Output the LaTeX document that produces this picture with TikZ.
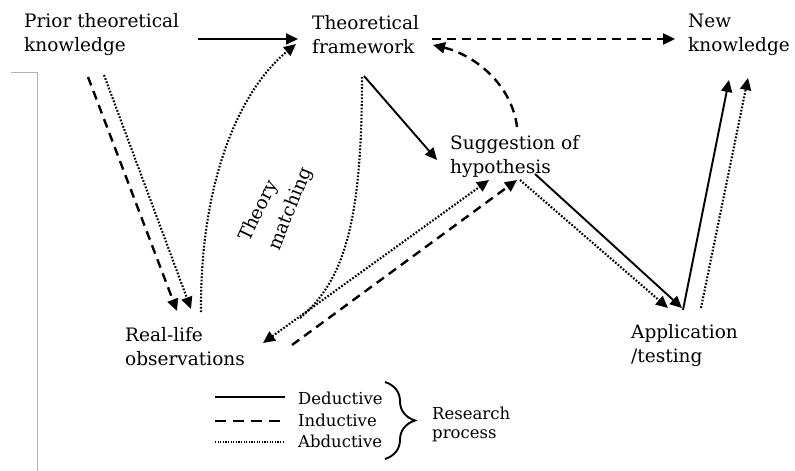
\documentclass[tikz,border=0pt]{standalone}
\usepackage{fontspec}
\setmainfont{DejaVu Serif}
\usetikzlibrary{arrows.meta,decorations.pathreplacing}
\tikzset{
  lbl/.style={inner sep=0pt, align=left, anchor=west, font=\fontsize{18.5}{24}\selectfont},
  leg/.style={inner sep=0pt, align=left, anchor=west, font=\fontsize{16.5}{19}\selectfont},
  tip/.style={-{Triangle[length=12pt,width=11pt]}},
  dedu/.style={line width=1.9pt},
  indu/.style={line width=2.4pt, dash pattern=on 9pt off 6pt},
  abdu/.style={line width=2.1pt, dash pattern=on 1.7pt off 1.7pt},
}
\begin{document}
\begin{tikzpicture}[x=1pt,y=-1pt]
\useasboundingbox (0,0) rectangle (795,471);
\draw[gray!60, line width=1pt] (11,72) -- (37,72) -- (37,471);

\node[lbl] (prior) at (24,35) {Prior theoretical\\knowledge};
\node[lbl] (frame) at (312,35) {Theoretical\\framework};
\node[lbl] (newk) at (688,35) {New\\knowledge};
\node[lbl] (sugg) at (450,157) {Suggestion of\\hypothesis};
\node[lbl] (real) at (125,347) {Real-life\\observations};
\node[lbl] (appl) at (631,346) {Application\\/testing};
\node[lbl, anchor=base west, rotate=64] (tm1) at (249,243) {Theory};
\node[lbl, anchor=base west, rotate=68] (tm2) at (279,252) {matching};

% connector end points
\coordinate (p1) at (198,39);  \coordinate (f1) at (298,39);
\coordinate (p2) at (88,77);   \coordinate (r1) at (177,311);
\coordinate (p3) at (104,75);  \coordinate (r2) at (191,309);
\coordinate (r3) at (201,312); \coordinate (f2) at (296,44);
\coordinate (f3) at (364,76);  \coordinate (s1) at (437,160);
\coordinate (f4) at (362,77);  \coordinate (m1) at (300,318);
\coordinate (r4) at (263,343); \coordinate (s2) at (489,180);
\coordinate (r5) at (292,345); \coordinate (s3) at (517,180);
\coordinate (s4) at (517,127); \coordinate (f5) at (433,45);
\coordinate (f6) at (432,39);  \coordinate (n1) at (675,39);
\coordinate (s5) at (520,180); \coordinate (a1) at (668,308);
\coordinate (s6) at (535,174); \coordinate (a2) at (682,308);
\coordinate (a3) at (683,310); \coordinate (n2) at (729,80);
\coordinate (a4) at (701,308); \coordinate (n3) at (748,78);

\draw[dedu,tip] (p1) -- (f1);
\draw[indu,tip] (p2) -- (r1);
\draw[abdu,tip] (p3) -- (r2);
\draw[abdu,tip] (r3) .. controls (200,180) and (240,90) .. (f2);
\draw[dedu,tip] (f3) -- (s1);
\draw[abdu] (f4) .. controls (362,220) and (345,280) .. (m1);
\draw[abdu,{Triangle[length=12pt,width=11pt]}-{Triangle[length=12pt,width=11pt]}] (r4) -- (s2);
\draw[indu,tip] (r5) -- (s3);
\draw[indu,tip] (s4) .. controls (512,85) and (475,55) .. (f5);
\draw[indu,tip] (f6) -- (n1);
\draw[abdu,tip] (s5) -- (a1);
\draw[dedu,tip] (s6) -- (a2);
\draw[dedu,tip] (a3) -- (n2);
\draw[abdu,tip] (a4) -- (n3);

% legend
\coordinate (l1a) at (215,397); \coordinate (l1b) at (285,397);
\coordinate (l2a) at (215,421); \coordinate (l2b) at (285,421);
\coordinate (l3a) at (215,442); \coordinate (l3b) at (285,442);
\draw[dedu] (l1a) -- (l1b);
\draw[line width=2.4pt, dash pattern=on 11pt off 7pt] (l2a) -- (l2b);
\draw[line width=1.4pt, dash pattern=on 1.2pt off 1.4pt] (l3a) -- (l3b);
\node[leg] (ded) at (298,398) {Deductive};
\node[leg] (ind) at (298,420) {Inductive};
\node[leg] (abd) at (298,441) {Abductive};
\draw[line width=1.9pt, decorate, decoration={brace, amplitude=30pt}] (385,382) -- (385,459);
\node[leg] (rp) at (432,424) {Research\\process};
\end{tikzpicture}
\end{document}
